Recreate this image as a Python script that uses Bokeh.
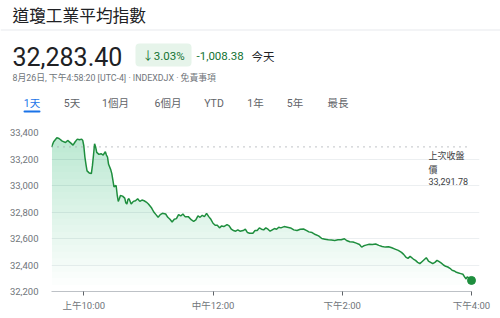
import numpy as np
from bokeh.plotting import figure
from bokeh.layouts import column
from bokeh.models import Label, BoxAnnotation, FixedTicker, Range1d
from bokeh.embed import file_html
from bokeh.resources import INLINE

# ---------------- data ----------------
title_text = "道瓊工業平均指數"
last_price = 32283.40
pct_change = "↓3.03%"
abs_change = "-1,008.38"
today_text = "今天"
prev_close = 33291.78
prev_close_label = ["上次收盤", "價"]
subtitle = "8月26日, 下午4:58:20 [UTC-4] · INDEXDJX · 免責事項"
tabs = ["1天", "5天", "1個月", "6個月", "YTD", "1年", "5年", "最長"]

# minutes since 9:30
minutes = [0, 2, 5, 7, 10, 13, 15, 18, 20, 22, 24, 26, 28, 29, 30, 31, 32, 33, 35, 37,
           38, 39, 40, 41, 42, 44, 46, 48, 50, 51, 52, 53, 55, 56, 57, 58, 60, 61, 62, 63,
           64, 66, 68, 69, 70, 71, 72, 74, 76, 78, 80, 82, 84, 86, 88, 90, 93, 95, 97, 99,
           101, 103, 106, 108, 110, 112, 114, 116, 118, 120, 122, 124, 127, 130, 132, 134, 136, 138, 140, 142,
           144, 146, 148, 150, 152, 154, 156, 158, 160, 163, 165, 167, 169, 171, 173, 175, 178, 180, 182, 184,
           187, 189, 191, 193, 195, 197, 199, 201, 203, 205, 207, 209, 211, 213, 216, 219, 222, 225, 228, 231,
           234, 237, 239, 242, 245, 248, 251, 254, 257, 260, 263, 266, 269, 272, 274, 277, 280, 283, 286, 288,
           290, 292, 295, 298, 301, 304, 307, 310, 313, 316, 319, 322, 325, 327, 329, 331, 333, 336, 338, 340,
           342, 344, 346, 348, 350, 352, 354, 356, 358, 360, 362, 364, 366, 368, 370, 372, 374, 376, 378, 380,
           382, 384, 385, 386, 388, 390]
prices = [33290, 33330, 33360, 33355, 33335, 33325, 33340, 33320, 33305, 33330, 33350, 33345, 33350, 33340, 33300, 33215, 33160, 33110, 33095, 33090,
          33150, 33230, 33315, 33290, 33250, 33235, 33240, 33230, 33255, 33230, 33215, 33160, 33120, 33090, 33040, 32990, 33000, 32930, 32880, 32900,
          32925, 32920, 32905, 32870, 32860, 32895, 32900, 32860, 32880, 32885, 32900, 32880, 32890, 32885, 32875, 32860, 32830, 32800, 32780, 32760,
          32780, 32790, 32785, 32760, 32745, 32725, 32745, 32750, 32780, 32770, 32785, 32765, 32765, 32740, 32730, 32740, 32770, 32760, 32775, 32765,
          32790, 32765, 32745, 32715, 32700, 32700, 32680, 32695, 32690, 32705, 32695, 32670, 32660, 32655, 32665, 32655, 32660, 32670, 32645, 32640,
          32640, 32660, 32660, 32680, 32670, 32665, 32680, 32670, 32655, 32665, 32675, 32670, 32685, 32680, 32690, 32685, 32680, 32665, 32660, 32670,
          32672, 32660, 32650, 32645, 32630, 32620, 32600, 32595, 32590, 32588, 32585, 32590, 32590, 32598, 32585, 32575, 32573, 32565, 32555, 32535,
          32545, 32550, 32556, 32555, 32558, 32548, 32540, 32535, 32538, 32530, 32520, 32510, 32495, 32480, 32460, 32450, 32465, 32445, 32435, 32420,
          32410, 32425, 32440, 32455, 32430, 32420, 32410, 32420, 32435, 32425, 32414, 32400, 32390, 32385, 32375, 32360, 32355, 32345, 32340, 32335,
          32330, 32305, 32295, 32310, 32300, 32283.4]

y_ticks = [32200, 32400, 32600, 32800, 33000, 33200, 33400]
y_tick_labels = ["32,200", "32,400", "32,600", "32,800", "33,000", "33,200", "33,400"]
x_ticks = [30, 150, 270, 390]
x_tick_labels = ["上午10:00", "中午12:00", "下午2:00", "下午4:00"]

# ---------------- styling ----------------
GREEN = "#1e8e3e"
TXT_GREEN = "#137333"
GRAY = "#70757a"
DARK = "#202124"
FONT = "Roboto, 'Noto Sans CJK TC', sans-serif"
CJK = "'Noto Sans CJK TC', Roboto, sans-serif"

W = 500
HEAD_H = 125
CH_H = 318 - HEAD_H
FL, FT, FB = 51, 132 - HEAD_H, 291 - HEAD_H   # chart frame, in chart-figure pixels
BR = 21                                          # right border (frame ends at 479)
XMAX = 390 * (W - BR - FL) / (471 - FL)          # 16:00 falls at x = 471

# ---------------- header figure ----------------
h = figure(width=W, height=HEAD_H, output_backend="svg", toolbar_location=None,
           x_range=Range1d(0, W), y_range=Range1d(HEAD_H, 0),
           x_axis_type=None, y_axis_type=None, min_border=0, frame_align=False)
h.outline_line_color = None
h.grid.visible = False


def hlab(x, y, text, size, color, font=FONT, align="left", baseline="middle"):
    h.add_layout(Label(x=x, y=y, text=text, text_font=font, text_font_size=f"{size}px",
                       text_color=color, text_align=align, text_baseline=baseline))


def hbox(l, r, t_, b, color, radius=0):
    h.add_layout(BoxAnnotation(left=l, right=r, top=t_, bottom=b, fill_color=color,
                               fill_alpha=1, line_color=None, border_radius=radius))


hlab(12, 14, title_text, 16.7, DARK, font=CJK)
hbox(0, W, 29, 30, "#e8eaed")
hlab(12, 56, f"{last_price:,.2f}", 25, DARK)
hbox(135, 191, 43, 66, "#e6f4ea", radius=4)
hlab(163, 55.5, pct_change, 11.5, TXT_GREEN, align="center")
hlab(196, 55.5, abs_change, 11.5, TXT_GREEN)
hlab(251, 55.5, today_text, 11.5, DARK, font=CJK)
hlab(12, 77, subtitle, 8.8, GRAY, font=FONT)

tab_x = [31.5, 71.5, 115, 167.5, 213.5, 255, 294.5, 337.5]
for i, (tx, tt) in enumerate(zip(tab_x, tabs)):
    hlab(tx, 103, tt, 10.5, "#1a73e8" if i == 0 else "#5f6368", align="center")
hbox(23, 40, 110, 112, "#1a73e8", radius=1)

# ---------------- chart figure ----------------
p = figure(width=W, height=CH_H, output_backend="svg", toolbar_location=None,
           x_range=Range1d(0, XMAX), y_range=Range1d(32200, 33400),
           min_border_left=FL, min_border_right=BR,
           min_border_top=FT, min_border_bottom=CH_H - FB, frame_align=False)
p.outline_line_color = None
p.xgrid.grid_line_color = None
p.ygrid.grid_line_color = "#eceff1"
p.ygrid.ticker = FixedTicker(ticks=y_ticks)

p.xaxis.ticker = FixedTicker(ticks=x_ticks)
p.xaxis.bounds = (0, 390)
p.xaxis.major_label_overrides = dict(zip(x_ticks, x_tick_labels))
p.xaxis.axis_line_color = "#bdc1c6"
p.xaxis.major_tick_line_color = "#5f6368"
p.xaxis.major_tick_out = 4
p.xaxis.major_tick_in = 0
p.xaxis.minor_tick_line_color = None
p.xaxis.major_label_standoff = 4
p.xaxis.major_label_text_font = FONT
p.xaxis.major_label_text_font_size = "9.5px"
p.xaxis.major_label_text_color = GRAY

p.yaxis.ticker = FixedTicker(ticks=y_ticks)
p.yaxis.major_label_overrides = dict(zip(y_ticks, y_tick_labels))
p.yaxis.axis_line_color = None
p.yaxis.major_tick_line_color = None
p.yaxis.minor_tick_line_color = None
p.yaxis.major_label_standoff = 7
p.yaxis.major_label_text_font = FONT
p.yaxis.major_label_text_font_size = "9.5px"
p.yaxis.major_label_text_color = GRAY

t = np.array(minutes, dtype=float)
v = np.array(prices, dtype=float)
# vertical gradient under the line: stacked translucent bands
for lvl in np.arange(32250, 33400, 50):
    p.varea(x=t, y1=np.full_like(v, lvl), y2=np.maximum(v, lvl),
            fill_color=GREEN, fill_alpha=0.012)

# previous close dotted line (from open to close)
p.segment(x0=[minutes[0]], y0=[prev_close], x1=[minutes[-1]], y1=[prev_close],
          line_color="#9aa0a6", line_dash="1 5", line_width=1.2)

p.line(t, v, line_color=GREEN, line_width=1.5)
p.scatter([minutes[-1]], [prices[-1]], size=8, color=GREEN)


def clab(x, y, text, size, color, font=FONT):
    p.add_layout(Label(x=x - FL, y=(FB + HEAD_H) - y, x_units="screen", y_units="screen",
                       text=text, text_font=font, text_font_size=f"{size}px",
                       text_color=color, text_baseline="middle"))


clab(428, 155, prev_close_label[0], 9, "#3c4043", font=CJK)
clab(428, 168.5, prev_close_label[1], 9, "#3c4043", font=CJK)
clab(428, 181, f"{prev_close:,.2f}", 9, "#3c4043")

layout = column(h, p, spacing=0)
open("out.html", "w").write(file_html(layout, INLINE))
